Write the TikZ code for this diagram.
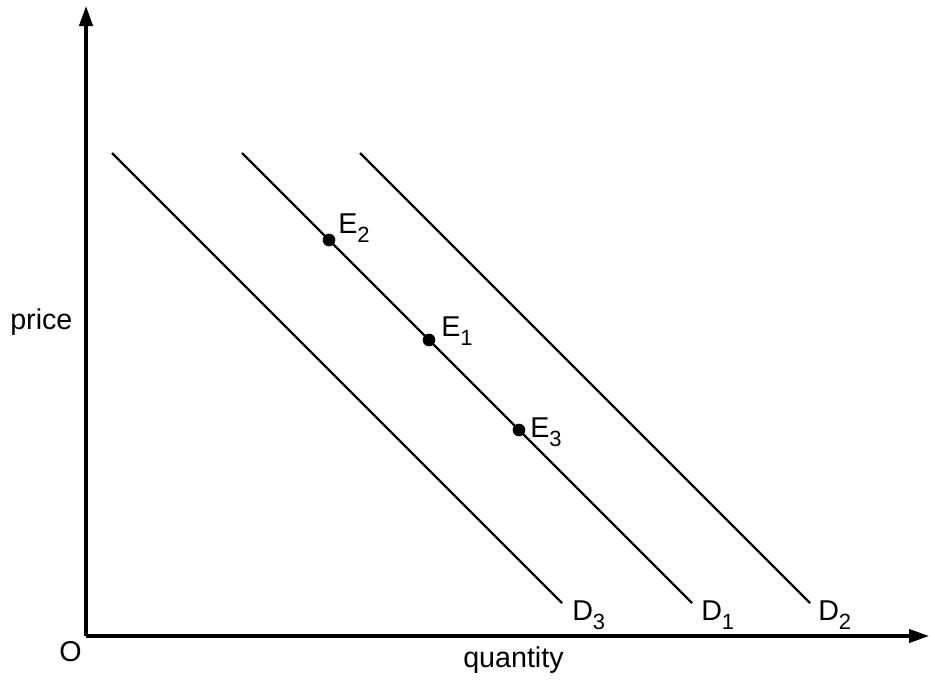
\documentclass[tikz,border=0pt]{standalone}
\usepackage{fontspec}
\setmainfont{Liberation Sans}
\usetikzlibrary{arrows.meta,positioning}
\newcommand\lowidx[1]{\raisebox{-7pt}{\fontsize{16.5}{16.5}\selectfont #1}}

\begin{document}
\begin{tikzpicture}[
    x=0.75pt, y=-0.75pt,
    every node/.style={font=\fontsize{21.5}{24}\selectfont, inner sep=0pt},
    axis/.style={line width=2.4pt, -{Triangle[length=15pt,width=10pt]}},
    demand/.style={line width=1.7pt},
    point/.style={circle, fill, minimum size=9.5pt},
    lbl/.style={anchor=base west}
]
    \useasboundingbox (0,0) rectangle (930,682);

    % Axes
    \coordinate (O) at (86,636);
    \coordinate (ytop) at (86,6);
    \coordinate (xend) at (929,636);
    \draw[axis] (O) -- (ytop);
    \draw[axis] (O) -- (xend);
    \node[lbl] (orig) at (59,661) {O};
    \node[lbl] (price) at (10,329) {price};
    \node[lbl] (qty) at (463,667) {quantity};

    % Demand curves
    \coordinate (d3a) at (112,153);
    \coordinate (d3b) at (562,603);
    \coordinate (d1a) at (242,153);
    \coordinate (d1b) at (692,603);
    \coordinate (d2a) at (360,153);
    \coordinate (d2b) at (810,603);
    \draw[demand] (d3a) -- (d3b);
    \draw[demand] (d1a) -- (d1b);
    \draw[demand] (d2a) -- (d2b);
    \node[lbl] (D3) at (572,620) {D\lowidx{3}};
    \node[lbl] (D1) at (701,620) {D\lowidx{1}};
    \node[lbl] (D2) at (818,620) {D\lowidx{2}};

    % Equilibrium points
    \node[point] (e2) at (329,240) {};
    \node[point] (e1) at (429,340) {};
    \node[point] (e3) at (519,430) {};
    \node[lbl] (E2) at (338,233) {E\lowidx{2}};
    \node[lbl] (E1) at (441,336) {E\lowidx{1}};
    \node[lbl] (E3) at (530,437) {E\lowidx{3}};
\end{tikzpicture}
\end{document}
